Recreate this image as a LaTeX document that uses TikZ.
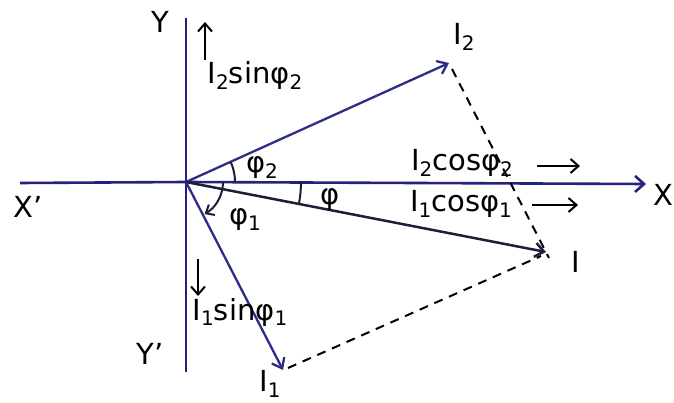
\documentclass[tikz,border=0pt]{standalone}
\usepackage{fontspec}
\setmainfont{DejaVu Sans}
\usetikzlibrary{arrows.meta}
\newcommand{\sbs}[1]{\raisebox{-0.35ex}{\fontsize{20}{22}\selectfont #1}}
\begin{document}
\begin{tikzpicture}[x=1pt,y=-1pt,
  axis/.style={draw=axisblue,line width=2.6pt},
  vec/.style={draw=vecblue,line width=2.3pt,-{Straight Barb[length=9pt,width=14pt,line width=2.3pt]}},
  resvec/.style={draw=resblack,line width=2.5pt,-{Straight Barb[length=9pt,width=14pt,line width=2.5pt]}},
  proj/.style={draw=black,line width=2pt,dash pattern=on 9pt off 7pt},
  lbl/.style={text=black,font=\fontsize{29}{32}\selectfont,inner sep=0pt},
  small/.style={draw=black,line width=2pt,-{Straight Barb[length=8pt,width=14pt,line width=2pt]}},
  ang/.style={draw=resblack,line width=2pt}]
\definecolor{axisblue}{RGB}{35,35,125}
\definecolor{vecblue}{RGB}{45,45,135}
\definecolor{resblack}{RGB}{30,30,55}
\useasboundingbox (0,0) rectangle (674,403);
\fill[white] (0,0) rectangle (674,403);
% axes
\coordinate (O) at (186,182);
\coordinate (xl) at (20,183);
\coordinate (xr) at (646,184);
\coordinate (yt) at (186,18);
\coordinate (yb) at (186,372);
\draw[axis] (xl) -- (O);
\draw[axis,-{Straight Barb[length=9pt,width=16pt,line width=2.6pt]}] (O) -- (xr);
\draw[axis] (yt) -- (yb);
% vector tips
\coordinate (I2) at (449,63);
\coordinate (I) at (546,252);
\coordinate (I1) at (283,370);
\draw[vec] (O) -- (I2);
\draw[resvec] (O) -- (I);
\draw[vec] (O) -- (I1);
% dashed parallelogram sides
\draw[proj] (452,69) -- (549,258);
\draw[proj] (288,368) -- (541,256);
% angle arcs
\draw[ang] ([shift={(0:49)}]O) arc[start angle=0,end angle=-24.4,radius=49];
\draw[ang] ([shift={(0:115)}]O) arc[start angle=0,end angle=11.0,radius=115];
\draw[ang,-{Straight Barb[length=7pt,width=12pt,line width=2pt]}] ([shift={(0:37)}]O) arc[start angle=0,end angle=60,radius=37];
% labels
\node[lbl] (ly) at (160,22) {Y};
\node[lbl] (lx1) at (28,207) {X'};
\node[lbl,anchor=west] (lx) at (653,195) {X};
\node[lbl] (ly1) at (150,354) {Y'};
\node[lbl] (lI2) at (464,37) {I\sbs{2}};
\node[lbl] (lI) at (576,262) {I};
\node[lbl] (lI1) at (270,384) {I\sbs{1}};
\node[lbl] (lp2) at (262,168) {φ\sbs{2}};
\node[lbl] (lp) at (330,200) {φ};
\node[lbl] (lp1) at (245,220) {φ\sbs{1}};
\node[lbl] (s2) at (255,76) {I\sbs{2}sinφ\sbs{2}};
\node[lbl] (c2) at (462,163) {I\sbs{2}cosφ\sbs{2}};
\node[lbl] (c1) at (461,204) {I\sbs{1}cosφ\sbs{1}};
\node[lbl] (s1) at (240,312) {I\sbs{1}sinφ\sbs{1}};
% component arrows
\coordinate (s2a) at (205,60);
\coordinate (s2b) at (205,22);
\draw[small] (s2a) -- (s2b);
\coordinate (s1a) at (198,259);
\coordinate (s1b) at (198,296);
\draw[small] (s1a) -- (s1b);
\coordinate (c2a) at (537,166);
\coordinate (c2b) at (580,166);
\draw[small] (c2a) -- (c2b);
\coordinate (c1a) at (532,205);
\coordinate (c1b) at (578,205);
\draw[small] (c1a) -- (c1b);
\end{tikzpicture}
\end{document}
